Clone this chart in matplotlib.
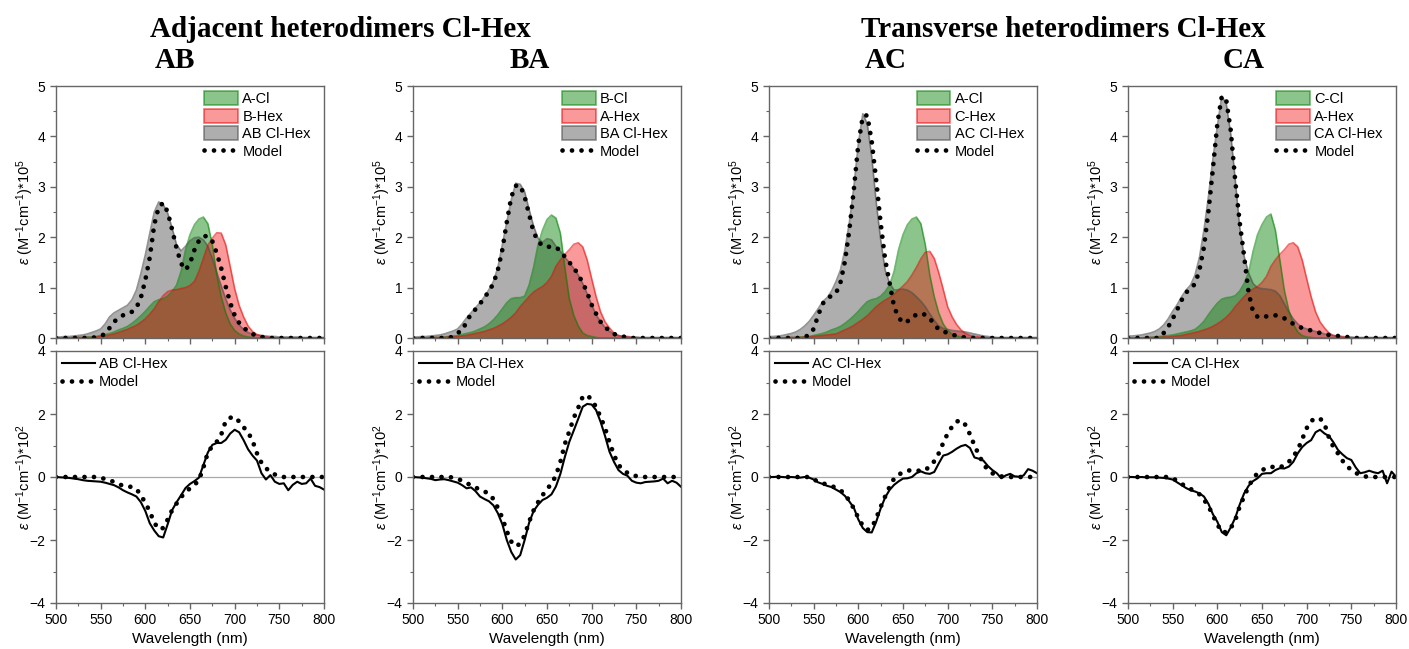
import numpy as np
import matplotlib
matplotlib.use("Agg")
import matplotlib.pyplot as plt
from matplotlib.patches import Patch
from matplotlib.lines import Line2D
from matplotlib.ticker import MultipleLocator

plt.rcParams["font.family"] = ["Liberation Sans", "DejaVu Sans"]
plt.rcParams["mathtext.fontset"] = "custom"
plt.rcParams["mathtext.rm"] = "Liberation Sans"
plt.rcParams["mathtext.it"] = "Liberation Sans:italic"
plt.rcParams["mathtext.bf"] = "Liberation Sans:bold"

# Wavelength grid (nm)
wavelength = np.arange(500, 801, 5)

# ---------------- Absorption, eps x 1e5 ----------------
a_cl = [0, 0, 0, 0, .01, .01, .01, .02, .02, .03, .05, .07, .09, .12, .16, .19, .23, .29, .36, .44,
        .53, .63, .72, .76, .78, .83, .92, 1.05, 1.32, 1.75, 2.05, 2.25, 2.36, 2.40, 2.27, 1.85, 1.25, .82, .50, .28,
        .15, .08, .04, .02, .01, 0, 0, 0, 0, 0, 0, 0, 0, 0, 0, 0, 0, 0, 0, 0, 0]
b_hex = [0, 0, 0, 0, .01, .01, .01, .01, .01, .02, .03, .04, .06, .08, .11, .14, .17, .21, .25, .31,
         .38, .47, .58, .72, .84, .92, .95, .96, .98, 1.00, 1.04, 1.12, 1.32, 1.58, 1.84, 1.98, 2.09, 2.08, 1.85, 1.42,
         .98, .65, .42, .24, .13, .07, .04, .02, .01, 0, 0, 0, 0, 0, 0, 0, 0, 0, 0, 0, 0]
ab_dimer = [.02, .02, .03, .03, .04, .05, .06, .08, .11, .14, .18, .28, .42, .50, .55, .60, .65, .76, .95, 1.28,
            1.65, 2.08, 2.50, 2.70, 2.65, 2.48, 2.18, 1.85, 1.73, 1.82, 1.93, 1.99, 2.00, 1.95, 1.82, 1.58, 1.30, 1.03, .78, .56,
            .39, .26, .17, .11, .08, .06, .05, .04, .03, .03, .02, .02, .02, .02, .02, .01, .01, .01, .01, .01, .01]
ab_model = [0, 0, 0, 0, 0, 0, 0, 0, 0, .02, .04, .08, .20, .32, .40, .45, .48, .52, .60, .80,
            1.15, 1.60, 2.25, 2.60, 2.68, 2.50, 2.15, 1.78, 1.48, 1.35, 1.48, 1.75, 1.93, 2.02, 2.02, 1.92, 1.68, 1.38, 1.02, .70,
            .45, .30, .20, .14, .08, .04, .02, .01, 0, 0, 0, 0, 0, 0, 0, 0, 0, 0, 0, 0, 0]

b_cl = [0, 0, 0, 0, .01, .01, .01, .02, .03, .04, .05, .07, .09, .11, .14, .18, .22, .28, .36, .46,
        .58, .70, .78, .80, .80, .83, 1.05, 1.40, 1.85, 2.14, 2.35, 2.44, 2.38, 2.08, 1.40, .78, .45, .24, .10, .05,
        .03, .01, 0, 0, 0, 0, 0, 0, 0, 0, 0, 0, 0, 0, 0, 0, 0, 0, 0, 0, 0]
a_hex = [0, 0, 0, 0, .01, .01, .01, .01, .02, .02, .03, .04, .05, .07, .09, .11, .13, .16, .19, .23,
         .28, .34, .41, .50, .62, .72, .82, .91, .97, 1.02, 1.10, 1.22, 1.42, 1.55, 1.66, 1.75, 1.86, 1.89, 1.81, 1.55,
         1.18, .82, .52, .32, .20, .10, .05, .03, .02, .01, 0, 0, 0, 0, 0, 0, 0, 0, 0, 0, 0]
ba_dimer = [.02, .02, .03, .03, .04, .05, .06, .08, .11, .14, .18, .28, .40, .50, .60, .70, .82, .96, 1.12, 1.40,
            1.85, 2.30, 2.74, 3.07, 3.05, 2.90, 2.55, 2.22, 1.98, 1.90, 1.97, 1.95, 1.82, 1.72, 1.60, 1.50, 1.38, 1.25, 1.08, .88,
            .66, .46, .32, .21, .13, .08, .05, .03, .03, .02, .02, .01, .01, .01, .01, .01, .01, .01, .01, .01, .01]
ba_model = [0, 0, 0, 0, 0, 0, 0, 0, 0, .03, .10, .15, .32, .48, .57, .68, .80, .93, 1.08, 1.35,
            1.75, 2.30, 2.80, 3.02, 3.03, 2.80, 2.45, 2.10, 1.92, 1.83, 1.81, 1.81, 1.80, 1.73, 1.61, 1.50, 1.40, 1.25, 1.10, .90,
            .66, .48, .32, .22, .14, .08, .05, .03, .01, 0, 0, 0, 0, 0, 0, 0, 0, 0, 0, 0, 0]

c_hex = [0, 0, 0, 0, .01, .01, .01, .01, .02, .02, .03, .04, .05, .06, .07, .08, .12, .16, .20, .25,
         .31, .37, .44, .53, .62, .69, .75, .80, .87, .95, 1.03, 1.12, 1.25, 1.40, 1.57, 1.70, 1.72, 1.58, 1.30, .97,
         .62, .42, .27, .16, .09, .05, .03, .02, .01, 0, 0, 0, 0, 0, 0, 0, 0, 0, 0, 0, 0]
ac_dimer = [.03, .03, .04, .05, .07, .09, .12, .17, .24, .33, .45, .58, .72, .80, .93, 1.12, 1.35, 1.75, 2.30, 3.00,
            3.85, 4.45, 4.25, 3.60, 2.70, 1.95, 1.35, 1.09, .95, .96, .97, .95, .90, .82, .73, .62, .48, .35, .24, .19,
            .17, .15, .14, .13, .12, .10, .08, .06, .04, .03, .02, .01, .01, .01, .01, .01, .01, .01, .01, .01, .01]
ac_model = [0, 0, 0, 0, 0, 0, 0, 0, .02, .06, .18, .45, .68, .78, .84, .89, 1.10, 1.52, 2.15, 2.95,
            3.85, 4.40, 4.42, 3.90, 3.13, 2.28, 1.56, 1.09, .62, .41, .30, .33, .42, .46, .49, .46, .39, .27, .17, .13,
            .10, .07, .04, .02, .01, 0, 0, 0, 0, 0, 0, 0, 0, 0, 0, 0, 0, 0, 0, 0, 0]

c_cl = [0, 0, 0, 0, .01, .01, .02, .03, .04, .05, .06, .08, .10, .12, .14, .17, .24, .33, .46, .58,
        .69, .77, .80, .81, .84, .93, 1.08, 1.30, 1.72, 2.05, 2.25, 2.40, 2.46, 2.14, 1.55, .95, .55, .28, .12, .05,
        .02, .01, 0, 0, 0, 0, 0, 0, 0, 0, 0, 0, 0, 0, 0, 0, 0, 0, 0, 0, 0]
ca_dimer = [.04, .04, .05, .06, .08, .10, .13, .18, .26, .38, .53, .66, .82, .95, 1.05, 1.25, 1.60, 2.14, 2.80, 3.55,
            4.20, 4.80, 4.65, 4.05, 3.15, 2.20, 1.62, 1.29, 1.08, 1.00, .98, .97, .96, .93, .84, .68, .52, .38, .28, .21,
            .18, .15, .13, .11, .08, .06, .05, .04, .03, .02, .02, .01, .01, .01, .01, .01, .01, .01, .01, .01, .01]
ca_model = [0, 0, 0, 0, 0, 0, 0, 0, .10, .22, .38, .56, .75, .90, .99, 1.07, 1.35, 1.80, 2.50, 3.35,
            4.25, 4.80, 4.72, 4.12, 3.13, 2.30, 1.62, .90, .52, .42, .40, .43, .45, .45, .43, .39, .34, .28, .23, .20,
            .17, .15, .12, .10, .08, .06, .05, .04, .03, .02, .01, 0, 0, 0, 0, 0, 0, 0, 0, 0, 0]

# ---------------- Circular dichroism, delta eps x 1e2 ----------------
ab_cd = [0, -.01, -.02, -.03, -.05, -.07, -.10, -.12, -.13, -.14, -.15, -.18, -.22, -.26, -.33, -.42, -.49, -.55, -.62, -.80,
         -1.08, -1.47, -1.70, -1.88, -1.92, -1.50, -1.05, -.80, -.58, -.35, -.22, -.13, -.02, .38, .78, 1.02, 1.08, 1.08, 1.18, 1.38,
         1.50, 1.42, 1.17, .88, .68, .52, .12, -.08, .06, -.15, -.22, -.20, -.42, -.25, -.15, -.22, -.20, -.05, -.28, -.32, -.40]
ab_cd_model = [0, 0, 0, 0, 0, 0, 0, 0, 0, 0, -.03, -.06, -.10, -.16, -.22, -.28, -.31, -.31, -.38, -.58,
               -.82, -1.10, -1.45, -1.66, -1.62, -1.35, -1.05, -.84, -.64, -.48, -.36, -.25, -.10, .30, .78, .98, 1.12, 1.35, 1.78, 1.88,
               1.91, 1.76, 1.58, 1.42, 1.15, .75, .45, .28, .16, .08, .02, 0, 0, 0, 0, 0, 0, 0, 0, 0, 0]
ba_cd = [0, -.01, -.02, -.04, -.06, -.10, -.08, -.07, -.10, -.14, -.18, -.26, -.36, -.33, -.45, -.62, -.70, -.77, -.90, -1.15,
         -1.50, -2.00, -2.38, -2.62, -2.48, -2.00, -1.45, -1.08, -.88, -.73, -.66, -.55, -.30, .10, .64, 1.12, 1.48, 1.85, 2.23, 2.32,
         2.30, 2.12, 1.75, 1.30, .80, .48, .22, .10, .04, -.12, -.18, -.20, -.16, -.15, -.14, -.12, -.05, -.20, -.12, -.18, -.31]
ba_cd_model = [0, 0, 0, 0, 0, 0, 0, 0, 0, -.02, -.06, -.12, -.18, -.28, -.34, -.39, -.46, -.53, -.70, -.98,
               -1.30, -1.72, -2.05, -2.20, -2.12, -1.85, -1.42, -1.06, -.80, -.58, -.38, -.22, .05, .48, 1.05, 1.45, 1.88, 2.20, 2.55, 2.60,
               2.45, 2.22, 1.90, 1.55, 1.10, .70, .38, .24, .13, .06, .03, .01, 0, 0, 0, 0, 0, 0, 0, 0, 0]
ac_cd = [0, 0, .01, 0, -.01, 0, -.01, -.02, 0, -.02, -.08, -.17, -.22, -.28, -.32, -.40, -.48, -.60, -.78, -.98,
         -1.35, -1.62, -1.75, -1.76, -1.42, -1.00, -.65, -.41, -.25, -.14, -.05, -.04, 0, .12, .18, .12, .10, .16, .43, .68,
         .72, .80, .90, .98, 1.02, .92, .62, .58, .52, .35, .22, .12, -.04, .05, .10, .02, .01, .05, .25, .20, .12]
ac_cd_model = [0, 0, 0, 0, 0, 0, 0, 0, 0, 0, -.08, -.14, -.20, -.24, -.28, -.35, -.42, -.55, -.76, -1.00,
               -1.30, -1.55, -1.68, -1.62, -1.31, -.95, -.62, -.31, -.05, .08, .14, .20, .22, .22, .18, .22, .34, .50, .75, 1.08,
               1.38, 1.60, 1.76, 1.80, 1.65, 1.35, 1.00, .70, .42, .22, .12, .05, .02, 0, 0, 0, 0, 0, 0, 0, 0]
ca_cd = [0, 0, -.01, 0, -.01, -.01, -.01, -.02, -.03, -.05, -.08, -.17, -.26, -.35, -.42, -.46, -.52, -.62, -.85, -1.18,
         -1.42, -1.75, -1.85, -1.60, -1.30, -.88, -.52, -.28, -.13, -.04, .10, .12, .12, .22, .28, .27, .33, .48, .75, .95,
         1.08, 1.17, 1.42, 1.50, 1.38, 1.30, 1.10, .86, .72, .60, .54, .30, .12, .15, .20, .15, .12, .20, -.20, .17, .01]
ca_cd_model = [0, 0, 0, 0, 0, 0, 0, 0, 0, 0, -.04, -.12, -.22, -.30, -.38, -.45, -.55, -.72, -.92, -1.22,
               -1.50, -1.75, -1.75, -1.62, -1.38, -.94, -.62, -.30, -.05, .12, .22, .28, .33, .30, .30, .38, .48, .65, .86, 1.20,
               1.55, 1.78, 1.86, 1.86, 1.68, 1.25, .95, .75, .52, .35, .22, .13, .06, .02, 0, 0, 0, 0, 0, 0, 0]

panel_names = ["AB", "BA", "AC", "CA"]
monomer_labels = [("A-Cl", "B-Hex"), ("B-Cl", "A-Hex"), ("A-Cl", "C-Hex"), ("C-Cl", "A-Hex")]
absorption = [
    (a_cl, b_hex, ab_dimer, ab_model),
    (b_cl, a_hex, ba_dimer, ba_model),
    (a_cl, c_hex, ac_dimer, ac_model),
    (c_cl, a_hex, ca_dimer, ca_model),
]
dichroism = [(ab_cd, ab_cd_model), (ba_cd, ba_cd_model), (ac_cd, ac_cd_model), (ca_cd, ca_cd_model)]

# ---------------- Styling ----------------
FRAME = "#666666"
GREEN_FACE = (0.0, 0.50, 0.0, 0.45)
GREEN_EDGE = (0.0, 0.50, 0.0, 0.55)
RED_FACE = (0.95, 0.0, 0.0, 0.40)
RED_EDGE = (0.90, 0.0, 0.0, 0.55)
GRAY_FACE = (0.30, 0.30, 0.30, 0.45)
GRAY_EDGE = (0.30, 0.30, 0.30, 0.60)
dotted = dict(color="black", lw=3.4, linestyle=(0, (0.01, 2.0)), dash_capstyle="round")

fig = plt.figure(figsize=(14.09, 6.49), dpi=100)

lefts = [56, 413, 769, 1128]
W, H = 1409.0, 649.0
ax_w = 268 / W
top_b, top_h = 1 - 338 / H, 252 / H
bot_b, bot_h = 1 - 603 / H, 252 / H


def style_axes(ax):
    for sp in ax.spines.values():
        sp.set_color(FRAME)
        sp.set_linewidth(1.0)
    ax.tick_params(which="both", direction="out", color=FRAME, top=False, right=False,
                   labelsize=10, labelcolor="black")
    ax.tick_params(which="major", length=4, width=1.0)
    ax.tick_params(which="minor", length=2.5, width=0.8)
    ax.set_xlim(500, 800)
    ax.xaxis.set_major_locator(MultipleLocator(50))
    ax.xaxis.set_minor_locator(MultipleLocator(25))


eps_top = r"$\mathit{\varepsilon}$ (M$^{-1}$cm$^{-1}$)*10$^{5}$"
eps_bot = r"$\mathit{\varepsilon}$ (M$^{-1}$cm$^{-1}$)*10$^{2}$"

for i, name in enumerate(panel_names):
    x0 = lefts[i] / W
    cl, hexa, dimer, model = absorption[i]
    lab_cl, lab_hex = monomer_labels[i]

    ax = fig.add_axes([x0, top_b, ax_w, top_h])
    ax.fill_between(wavelength, dimer, color=GRAY_FACE, lw=0)
    ax.plot(wavelength, dimer, color=GRAY_EDGE, lw=1.2)
    ax.fill_between(wavelength, cl, color=GREEN_FACE, lw=0)
    ax.plot(wavelength, cl, color=GREEN_EDGE, lw=1.2)
    ax.fill_between(wavelength, hexa, color=RED_FACE, lw=0)
    ax.plot(wavelength, hexa, color=RED_EDGE, lw=1.2)
    ax.plot(wavelength, model, **dotted)
    style_axes(ax)
    ax.set_ylim(0, 5)
    ax.yaxis.set_major_locator(MultipleLocator(1))
    ax.yaxis.set_minor_locator(MultipleLocator(0.5))
    ax.tick_params(axis="x", labelbottom=False)
    ax.set_ylabel(eps_top, fontsize=10.5)
    ax.yaxis.set_label_coords(-0.075, 0.5)
    handles = [
        Patch(facecolor=GREEN_FACE, edgecolor=GREEN_EDGE, lw=1.2, label=lab_cl),
        Patch(facecolor=RED_FACE, edgecolor=RED_EDGE, lw=1.2, label=lab_hex),
        Patch(facecolor=GRAY_FACE, edgecolor=GRAY_EDGE, lw=1.2, label=f"{name} Cl-Hex"),
        Line2D([], [], **dotted, label="Model"),
    ]
    ax.legend(handles=handles, loc="upper right", bbox_to_anchor=(0.97, 1.0), frameon=False,
              fontsize=10.5, handlelength=2.3, handleheight=1.1, labelspacing=0.18,
              handletextpad=0.3, borderaxespad=0.2, borderpad=0.15)

    cd, cd_model = dichroism[i]
    bx = fig.add_axes([x0, bot_b, ax_w, bot_h])
    bx.axhline(0, color="#a8a8a8", lw=0.9, zorder=0)
    bx.plot(wavelength, cd, color="black", lw=1.5, label=f"{name} Cl-Hex")
    bx.plot(wavelength, cd_model, **dotted, label="Model")
    style_axes(bx)
    bx.set_ylim(-4, 4)
    bx.yaxis.set_major_locator(MultipleLocator(2))
    bx.yaxis.set_minor_locator(MultipleLocator(1))
    bx.set_ylabel(eps_bot, fontsize=10.5)
    bx.yaxis.set_label_coords(-0.075, 0.5)
    bx.set_xlabel("Wavelength (nm)", fontsize=11, labelpad=3)
    bx.legend(loc="upper left", frameon=False, fontsize=10.5, handlelength=2.3,
              labelspacing=0.28, handletextpad=0.25, borderaxespad=0.2, borderpad=0.2)

# Headings
title_font = dict(family=["Liberation Serif", "DejaVu Serif"], weight="bold", fontsize=21)
fig.text(340 / W, 1 - 37 / H, "Adjacent heterodimers Cl-Hex", ha="center", va="baseline", **title_font)
fig.text(1063 / W, 1 - 37 / H, "Transverse heterodimers Cl-Hex", ha="center", va="baseline", **title_font)
for cx, lbl in zip([175, 530, 886, 1244], panel_names):
    fig.text(cx / W, 1 - 68 / H, lbl, ha="center", va="baseline", **title_font)

fig.savefig("out.png", dpi=100)
